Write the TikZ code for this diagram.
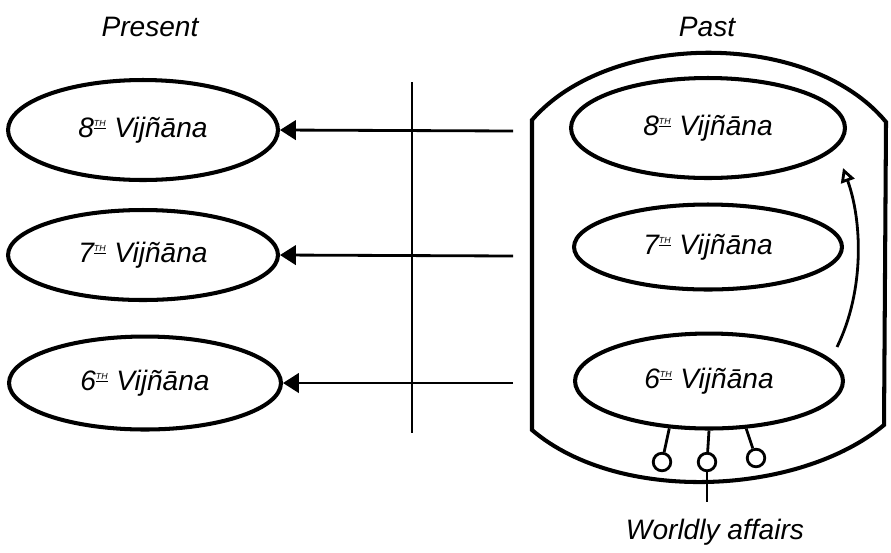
\documentclass[tikz,border=0pt]{standalone}
\usepackage{fontspec}
\setmainfont{Liberation Sans}
\usetikzlibrary{shapes.geometric,arrows.meta}

\newcommand{\vijn}[1]{#1\textsuperscript{\underline{\tiny TH}} Vijñāna}

\begin{document}
\begin{tikzpicture}[x=0.02cm, y=-0.02cm,
    vij/.style={draw, ellipse, line width=2.3pt, inner sep=0pt, font=\fontsize{16}{19}\selectfont\itshape},
    feed/.style={line width=1.6pt, -{Triangle[length=9pt, width=11pt]}},
    hand/.style={font=\fontsize{16}{19}\selectfont\itshape}]
\useasboundingbox (0,0) rectangle (891,552);

% titles
\node[hand] (present) at (150,27) {Present};
\node[hand] (past) at (707,27) {Past};
\node[hand] (worldly) at (715,532) {Worldly affairs};

% present side
\node[vij, minimum width=5.4cm, minimum height=2cm] (p8) at (143,130) {\vijn{8}};
\node[vij, minimum width=5.4cm, minimum height=1.8cm] (p7) at (143,255) {\vijn{7}};
\node[vij, minimum width=5.44cm, minimum height=1.86cm] (p6) at (145,383) {\vijn{6}};

% past side
\draw[line width=2.3pt] (532,120) .. controls (610,30) and (810,30) .. (886,122)
    -- (884,425) .. controls (800,495) and (620,505) .. (532,430) -- cycle;
\node[vij, minimum width=5.48cm, minimum height=2cm] (q8) at (708,128) {\vijn{8}};
\node[vij, minimum width=5.36cm, minimum height=1.7cm] (q7) at (708,247) {\vijn{7}};
\node[vij, minimum width=5.36cm, minimum height=1.9cm] (q6) at (709,381) {\vijn{6}};

% divider
\coordinate (dtop) at (412,82);
\coordinate (dbot) at (412,433);
\draw[line width=1.6pt] (dtop) -- (dbot);

% arrows from past to present
\coordinate (s8) at (513,131);
\coordinate (s7) at (513,256);
\coordinate (s6) at (513,383);
\draw[feed] (s8) -- (p8.east);
\draw[feed] (s7) -- (p7.east);
\draw[feed] (s6) -- (p6.east);

% rising arrow
\coordinate (c0) at (837,347);
\coordinate (c1) at (843,168);
\draw[line width=1.6pt, -{Triangle[open, length=8pt, width=8pt]}] (c0) .. controls (865,290) and (862,220) .. (c1);

% senses
\node[draw, circle, line width=1.6pt, minimum size=10pt, inner sep=0pt] (o1) at (662,462) {};
\node[draw, circle, line width=1.6pt, minimum size=10pt, inner sep=0pt] (o2) at (707,462) {};
\node[draw, circle, line width=1.6pt, minimum size=10pt, inner sep=0pt] (o3) at (756,458) {};
\coordinate (w0) at (707,502);
\draw[line width=1.6pt] (q6.-130) -- (o1);
\draw[line width=1.6pt] (q6.south) -- (o2);
\draw[line width=1.6pt] (q6.-52) -- (o3);
\draw[line width=1.6pt] (o2) -- (w0);
\end{tikzpicture}
\end{document}
